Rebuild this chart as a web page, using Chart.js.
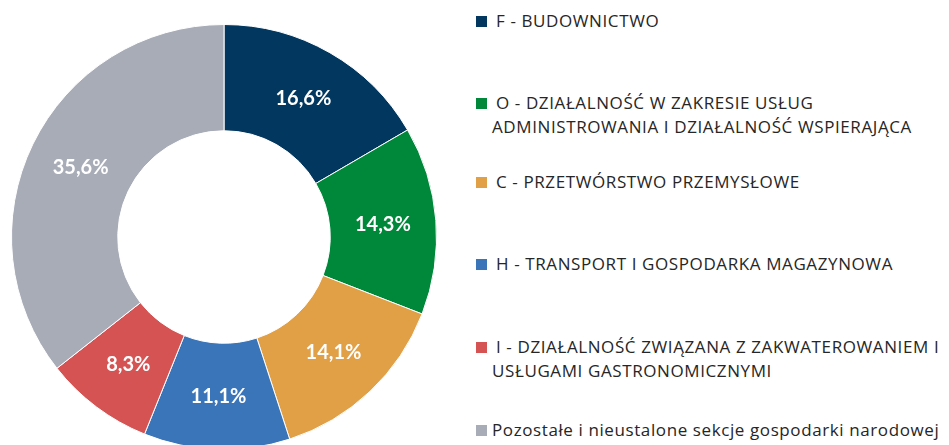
<!DOCTYPE html>
<html lang="pl">
<head>
<meta charset="utf-8">
<script src="https://cdn.jsdelivr.net/npm/chart.js@4/dist/chart.umd.min.js"></script>
<style>
    html, body {
        margin: 0;
        padding: 0;
        width: 949px;
        height: 445px;
        overflow: hidden;
        background: #fff;
        font-family: Lato, "Open Sans", sans-serif;
    }
    #chart-box {
        position: absolute;
        left: 11px;
        top: 24px;
        width: 426px;
        height: 426px;
    }
    #legend {
        position: absolute;
        left: 476px;
        top: 0;
        margin: 0;
        padding: 0;
        list-style: none;
        color: #262626;
        font-family: "Open Sans", sans-serif;
        font-size: 17px;
        letter-spacing: 0.6px;
        line-height: 24px;
    }
    #legend li {
        position: absolute;
        left: 0;
        width: 470px;
        white-space: nowrap;
    }
    #legend .box {
        position: absolute;
        left: 0;
        top: 7px;
        width: 11px;
        height: 11px;
    }
    #legend .txt {
        display: block;
        padding-left: 16px;
    }
    #legend .txt.first {
        padding-left: 20px;
    }
    #legend li:last-child .txt.first {
        padding-left: 16px;
    }
    #legend li:nth-child(1) { top: 9px; }
    #legend li:nth-child(2) { top: 91px; }
    #legend li:nth-child(3) { top: 170px; }
    #legend li:nth-child(4) { top: 252px; }
    #legend li:nth-child(5) { top: 335px; }
    #legend li:nth-child(6) { top: 418px; }
</style>
</head>
<body>
<div id="chart-box"><canvas id="myChart" width="426" height="426"></canvas></div>
<ul id="legend"></ul>

<script>
// data
var sectors = [
    "F - BUDOWNICTWO",
    "O - DZIAŁALNOŚĆ W ZAKRESIE USŁUG|ADMINISTROWANIA I DZIAŁALNOŚĆ WSPIERAJĄCA",
    "C - PRZETWÓRSTWO PRZEMYSŁOWE",
    "H - TRANSPORT I GOSPODARKA MAGAZYNOWA",
    "I - DZIAŁALNOŚĆ ZWIĄZANA Z ZAKWATEROWANIEM I|USŁUGAMI GASTRONOMICZNYMI",
    "Pozostałe i nieustalone sekcje gospodarki narodowej"
];
var shares = [16.6, 14.3, 14.1, 11.1, 8.3, 35.6];
var sliceColors = ["#02375f", "#00883a", "#e19f46", "#3a74b9", "#d55353", "#a8acb7"];

// legend
var legend = document.getElementById("legend");
sectors.forEach(function(name, i) {
    let li = document.createElement("li");
    let lines = name.split("|");
    li.innerHTML = '<span class="box" style="background:' + sliceColors[i] + '"></span>' +
        lines.map(function(l, j) {
            return '<span class="txt' + (j == 0 ? ' first' : '') + '">' + l + '</span>';
        }).join("");
    legend.appendChild(li);
});

// value labels inside slices
const sliceLabels = {
    id: "sliceLabels",
    afterDatasetsDraw(chart) {
        const ctx = chart.ctx;
        const meta = chart.getDatasetMeta(0);
        ctx.save();
        ctx.fillStyle = "#ffffff";
        ctx.font = "bold 20px Lato";
        ctx.textAlign = "center";
        ctx.textBaseline = "middle";
        meta.data.forEach(function(arc, i) {
            const p = arc.tooltipPosition();
            ctx.fillText(shares[i].toFixed(1).replace(".", ",") + "%", p.x, p.y);
        });
        ctx.restore();
    }
};

new Chart(document.getElementById("myChart"), {
    type: "doughnut",
    data: {
        labels: sectors.map(function(s) { return s.replace("|", " "); }),
        datasets: [{
            data: shares,
            backgroundColor: sliceColors,
            borderColor: "#ffffff",
            borderWidth: 1
        }]
    },
    options: {
        responsive: false,
        animation: false,
        cutout: "50%",
        layout: { padding: 0 },
        plugins: {
            legend: { display: false },
            tooltip: { enabled: false }
        }
    },
    plugins: [sliceLabels]
});
</script>
</body>
</html>
